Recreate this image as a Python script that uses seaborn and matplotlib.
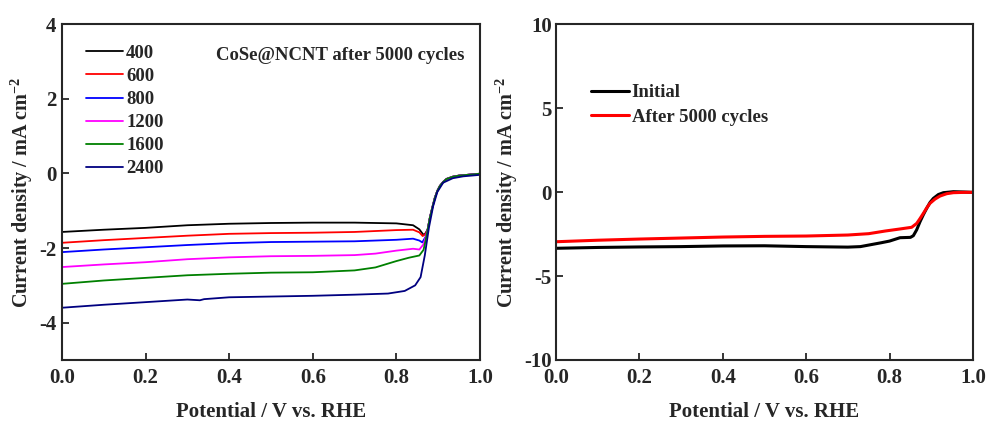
import numpy as np
import pandas as pd
import matplotlib
matplotlib.use("Agg")
import matplotlib.pyplot as plt
import seaborn as sns

# ---------------- data (left panel) ----------------
rpm_labels = ["400", "600", "800", "1200", "1600", "2400"]
rpm_colors = ["#000000", "#ff0000", "#0000ff", "#ff00ff", "#008000", "#000080"]

tail_x = [0.875, 0.88, 0.886, 0.892, 0.898, 0.904, 0.912, 0.92, 0.935, 0.95, 0.97, 1.0]
tail_y = [-1.50, -1.20, -0.92, -0.66, -0.47, -0.34, -0.23, -0.15, -0.09, -0.06, -0.04, -0.01]

x400 = [0, 0.1, 0.2, 0.3, 0.4, 0.5, 0.6, 0.7, 0.8, 0.84, 0.855, 0.865, 0.87]
y400 = [-1.57, -1.51, -1.46, -1.39, -1.35, -1.33, -1.32, -1.32, -1.34, -1.39, -1.50, -1.65, -1.60]
x600 = [0, 0.1, 0.2, 0.3, 0.4, 0.5, 0.6, 0.7, 0.8, 0.84, 0.855, 0.863, 0.87]
y600 = [-1.86, -1.79, -1.73, -1.67, -1.62, -1.60, -1.59, -1.57, -1.52, -1.51, -1.58, -1.68, -1.62]
x800 = [0, 0.1, 0.2, 0.3, 0.4, 0.5, 0.6, 0.7, 0.8, 0.84, 0.855, 0.862, 0.87]
y800 = [-2.11, -2.04, -1.98, -1.92, -1.87, -1.84, -1.83, -1.82, -1.78, -1.75, -1.80, -1.85, -1.70]
x1200 = [0, 0.1, 0.2, 0.3, 0.4, 0.5, 0.6, 0.7, 0.75, 0.8, 0.84, 0.855, 0.865, 0.87]
y1200 = [-2.51, -2.44, -2.38, -2.30, -2.25, -2.22, -2.21, -2.19, -2.15, -2.07, -2.02, -2.04, -1.90, -1.72]
x1600 = [0, 0.1, 0.2, 0.3, 0.4, 0.5, 0.6, 0.7, 0.75, 0.8, 0.83, 0.855, 0.865, 0.87]
y1600 = [-2.96, -2.87, -2.80, -2.73, -2.69, -2.66, -2.65, -2.60, -2.52, -2.35, -2.26, -2.20, -2.05, -1.80]
x2400 = [0, 0.1, 0.2, 0.3, 0.33, 0.34, 0.4, 0.5, 0.6, 0.7, 0.78, 0.82, 0.845, 0.858, 0.868,
         0.878, 0.888, 0.898, 0.912, 0.935, 0.96, 1.0]
y2400 = [-3.60, -3.52, -3.45, -3.38, -3.40, -3.37, -3.32, -3.30, -3.28, -3.25, -3.22, -3.15, -3.00,
         -2.78, -2.20, -1.45, -0.88, -0.50, -0.25, -0.13, -0.08, -0.04]

# ---------------- data (right panel) ----------------
stab_labels = ["Initial", "After 5000 cycles"]
stab_colors = ["#000000", "#ff0000"]
x_init = [0, 0.1, 0.2, 0.3, 0.4, 0.5, 0.6, 0.7, 0.73, 0.78, 0.8, 0.825, 0.85, 0.857, 0.865,
          0.873, 0.881, 0.889, 0.897, 0.905, 0.917, 0.929, 0.953, 0.98, 1.0]
y_init = [-3.35, -3.30, -3.27, -3.25, -3.21, -3.20, -3.25, -3.28, -3.25, -3.02, -2.92, -2.72,
          -2.70, -2.60, -2.25, -1.77, -1.35, -0.97, -0.62, -0.38, -0.15, -0.04, 0.02, 0.0, -0.02]
x_after = [0, 0.1, 0.2, 0.3, 0.4, 0.5, 0.6, 0.7, 0.75, 0.79, 0.825, 0.853, 0.865, 0.873, 0.881,
           0.889, 0.897, 0.909, 0.921, 0.937, 0.953, 0.98, 1.0]
y_after = [-2.96, -2.87, -2.80, -2.74, -2.68, -2.64, -2.62, -2.56, -2.48, -2.32, -2.20, -2.10,
           -1.87, -1.58, -1.27, -0.95, -0.67, -0.42, -0.24, -0.10, -0.04, -0.02, -0.02]

# ---------------- build tables ----------------
left_series = [(x400, y400), (x600, y600), (x800, y800), (x1200, y1200), (x1600, y1600)]
rows = []
for lab, (xs, ys) in zip(rpm_labels[:5], left_series):
    for xv, yv in zip(list(xs) + tail_x, list(ys) + tail_y):
        rows.append((lab, xv, yv))
for xv, yv in zip(x2400, y2400):
    rows.append(("2400", xv, yv))
df_left = pd.DataFrame(rows, columns=["rpm", "E", "j"])

rows = []
for lab, xs, ys in zip(stab_labels, [x_init, x_after], [y_init, y_after]):
    for xv, yv in zip(xs, ys):
        rows.append((lab, xv, yv))
df_right = pd.DataFrame(rows, columns=["state", "E", "j"])

# ---------------- style ----------------
sns.set_theme(style="ticks")
plt.rcParams["font.family"] = ["Liberation Serif", "DejaVu Serif"]
plt.rcParams["font.weight"] = "bold"
plt.rcParams["axes.labelweight"] = "bold"
plt.rcParams["mathtext.default"] = "regular"
plt.rcParams["axes.unicode_minus"] = False
plt.rcParams["axes.linewidth"] = 1.5
plt.rcParams["xtick.direction"] = "in"
plt.rcParams["ytick.direction"] = "in"

fig = plt.figure(figsize=(9.9, 4.21), dpi=100)
ax1 = fig.add_axes([0.0626, 0.1449, 0.4222, 0.798])
ax2 = fig.add_axes([0.5616, 0.1449, 0.4212, 0.798])

sns.lineplot(data=df_left, x="E", y="j", hue="rpm", hue_order=rpm_labels,
             palette=rpm_colors, sort=False, estimator=None, lw=1.3, ax=ax1)
sns.lineplot(data=df_right, x="E", y="j", hue="state", hue_order=stab_labels,
             palette=stab_colors, sort=False, estimator=None, lw=2.2, ax=ax2)

for ax in (ax1, ax2):
    ax.set_xlim(0, 1.0)
    ax.set_xticks([0.0, 0.2, 0.4, 0.6, 0.8, 1.0])
    ax.set_xticklabels(["0.0", "0.2", "0.4", "0.6", "0.8", "1.0"])
    ax.tick_params(axis="both", which="major", length=5, width=1.3, labelsize=15)
    ax.tick_params(axis="x", pad=6)
    ax.set_xlabel("Potential / V vs. RHE", fontsize=15, fontweight="bold", labelpad=10)
    ax.set_ylabel("Current density / mA cm$^{-2}$", fontsize=14.5, fontweight="bold", labelpad=3)
    for s in ax.spines.values():
        s.set_visible(True)
        s.set_linewidth(1.5)

ax1.tick_params(axis="y", pad=4)
ax2.tick_params(axis="y", pad=3)
ax1.set_ylim(-5, 4)
ax1.set_yticks([-4, -2, 0, 2, 4])
ax2.set_ylim(-10, 10)
ax2.set_yticks([-10, -5, 0, 5, 10])
for ax in (ax1, ax2):
    for lbl in ax.get_xticklabels() + ax.get_yticklabels():
        lbl.set_fontweight("bold")

leg1 = ax1.legend(loc="upper left", bbox_to_anchor=(0.03, 0.972), frameon=False,
                  prop={"size": 13.5, "weight": "bold"}, handlelength=2.0,
                  handletextpad=0.15, labelspacing=0.32, borderaxespad=0.2)
for h in leg1.get_lines():
    h.set_linewidth(1.3)
leg2 = ax2.legend(loc="upper left", bbox_to_anchor=(0.058, 0.855), frameon=False,
                  prop={"size": 13.5, "weight": "bold"}, handlelength=2.0,
                  handletextpad=0.15, labelspacing=0.4, borderaxespad=0.2)
for h in leg2.get_lines():
    h.set_linewidth(2.2)

ax1.text(0.963, 0.907, "CoSe@NCNT after 5000 cycles", transform=ax1.transAxes,
         ha="right", va="center", fontsize=13.5, fontweight="bold")

fig.savefig("out.png", dpi=100)
